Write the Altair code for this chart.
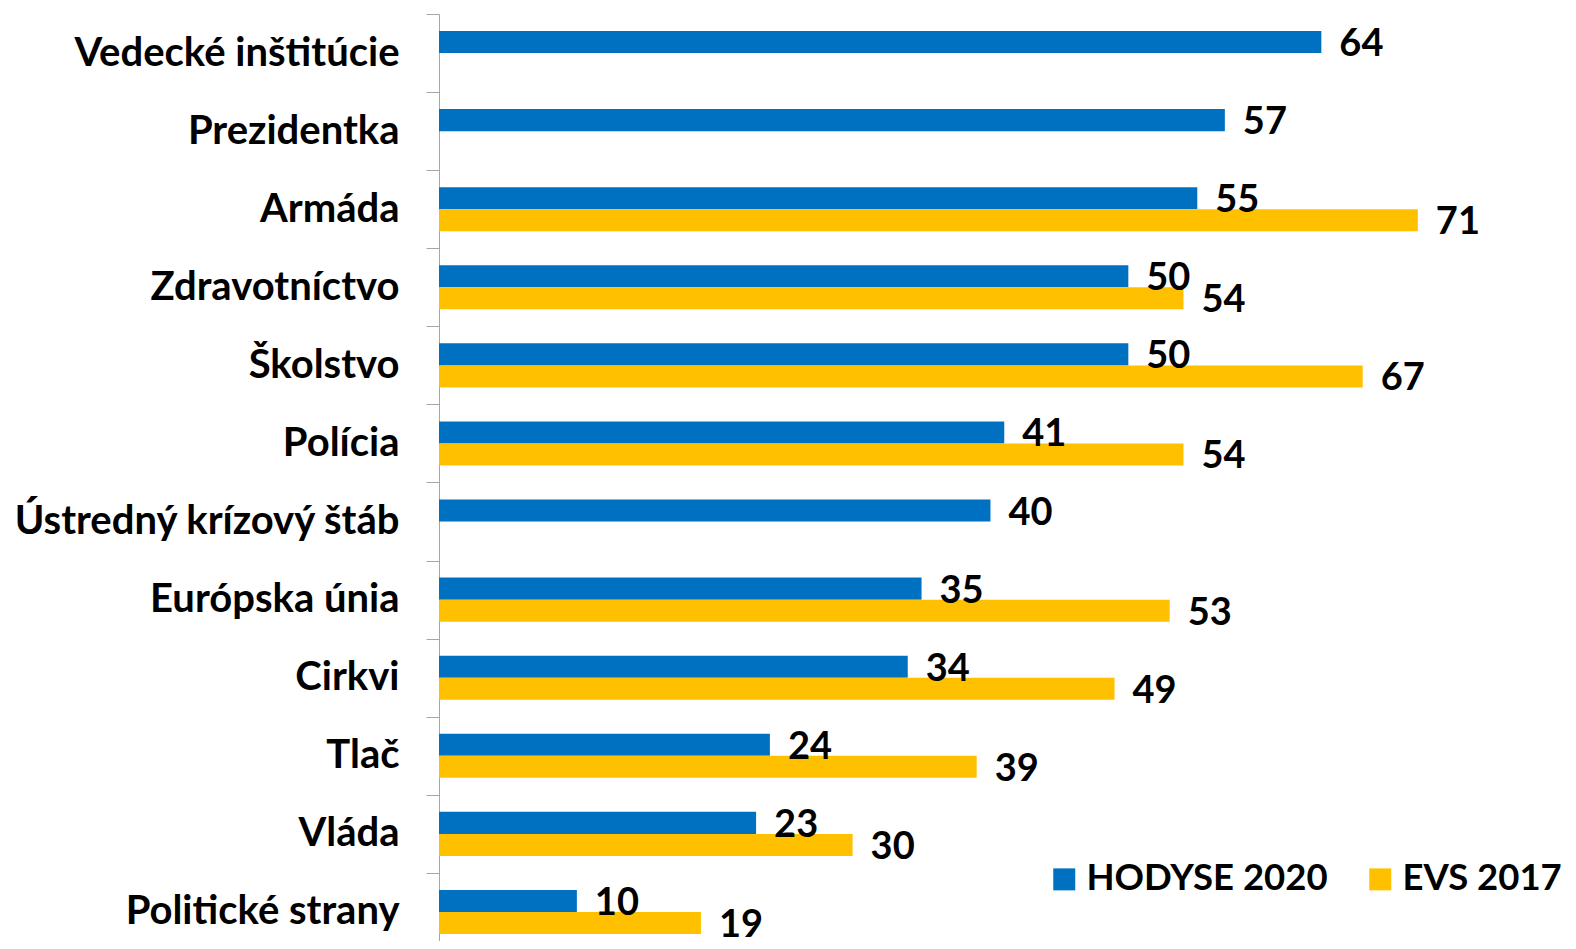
import altair as alt
import pandas as pd

categories = ["Vedecké inštitúcie", "Prezidentka", "Armáda", "Zdravotníctvo", "Školstvo",
              "Polícia", "Ústredný krízový štáb", "Európska únia", "Cirkvi", "Tlač",
              "Vláda", "Politické strany"]
hodyse_2020 = [64, 57, 55, 50, 50, 41, 40, 35, 34, 24, 23, 10]
evs_2017 = [None, None, 71, 54, 67, 54, None, 53, 49, 39, 30, 19]
series = ["HODYSE 2020", "EVS 2017"]
colors = ["#0070C0", "#FFC000"]

rows = []
for c, h, e in zip(categories, hodyse_2020, evs_2017):
    rows.append({"cat": c, "series": series[0], "value": h})
    if e is not None:
        rows.append({"cat": c, "series": series[1], "value": e})
df = pd.DataFrame(rows)

FONT = "Lato"

y = alt.Y("cat:N", sort=categories,
          scale=alt.Scale(range=[0, 937], paddingInner=0, paddingOuter=0),
          axis=alt.Axis(title=None, tickBand="extent", tickSize=13, labelPadding=27,
                        labelFontSize=40, labelFont=FONT, labelFontWeight="bold",
                        labelColor="black", domainColor="#A6A6A6", tickColor="#A6A6A6",
                        labelLimit=500))
yoff = alt.YOffset("series:N", sort=series,
                   scale=alt.Scale(domain=series, paddingInner=0, paddingOuter=0.7727))
x = alt.X("value:Q", scale=alt.Scale(domain=[0, 75]), axis=None)

bars = alt.Chart(df).mark_bar().encode(
    x=x, y=y, yOffset=yoff,
    color=alt.Color("series:N", scale=alt.Scale(domain=series, range=colors),
                    legend=alt.Legend(title=None, orient="none", direction="horizontal",
                                      legendX=607, legendY=847, symbolType="square",
                                      symbolSize=484, symbolStrokeWidth=0,
                                      labelFontSize=36.5, labelFont=FONT,
                                      labelFontWeight="bold", labelColor="black",
                                      columnPadding=34, labelOffset=4, padding=0,
                                      labelLimit=400)),
)

labels = alt.Chart(df).mark_text(align="left", baseline="middle", dx=18, dy=3,
                                 fontSize=38, font=FONT, fontWeight="bold",
                                 color="black").encode(
    x=x, y=y, yOffset=yoff, text="value:Q")

chart = (bars + labels).properties(
    width=1034, height=927,
    padding={"left": 431, "top": 6, "right": 95, "bottom": 0},
    autosize="none",
    background="white",
).configure_view(stroke=None)

chart.save("out.html", embed_options={"renderer": "svg", "actions": False})
